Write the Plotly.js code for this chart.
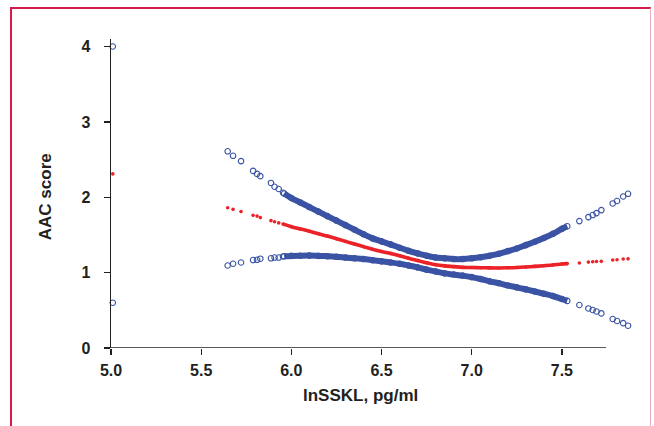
<!DOCTYPE html>
<html>
<head>
<meta charset="utf-8">
<script src="https://cdn.plot.ly/plotly-3.0.1.min.js"></script>
<style>
  html, body { margin: 0; padding: 0; background: #ffffff; }
  #wrap { position: relative; width: 654px; height: 426px; overflow: hidden; }
  #chart { position: absolute; left: 0; top: 0; width: 654px; height: 426px; }
  #frame { position: absolute; left: 10px; top: 7px; width: 641px; height: 440px;
           border-top: 2.5px solid #d21c4c; border-left: 2.5px solid #d21c4c;
           border-right: 1.5px solid #e8b0c4; pointer-events: none; box-sizing: border-box; }
</style>
</head>
<body>
<div id="wrap">
  <div id="chart"></div>
  <div id="frame"></div>
</div>
<script>
// ---- data ----
var xLeft  = [5.01, 5.647, 5.677, 5.721, 5.788, 5.810, 5.828, 5.887, 5.907, 5.930, 5.954];
var upperLeft = [4.00, 2.61, 2.55, 2.48, 2.35, 2.31, 2.28, 2.19, 2.14, 2.11, 2.06];
var estLeft   = [2.31, 1.86, 1.84, 1.81, 1.76, 1.75, 1.73, 1.69, 1.675, 1.66, 1.645];
var lowerLeft = [0.60, 1.095, 1.118, 1.135, 1.167, 1.17, 1.185, 1.19, 1.20, 1.20, 1.215];

var xBand = [5.96, 6.00, 6.05, 6.10, 6.15, 6.20, 6.25, 6.30, 6.35, 6.40, 6.45, 6.50, 6.55, 6.60, 6.65, 6.70, 6.75,
             6.80, 6.85, 6.90, 6.95, 7.00, 7.05, 7.10, 7.15, 7.20, 7.25, 7.30, 7.35, 7.40, 7.45, 7.50, 7.53];
var upperBand = [2.05, 1.99, 1.93, 1.87, 1.81, 1.75, 1.69, 1.63, 1.57, 1.51, 1.455, 1.415, 1.375, 1.33, 1.29, 1.255, 1.225,
                 1.20, 1.19, 1.18, 1.18, 1.19, 1.205, 1.225, 1.25, 1.285, 1.32, 1.365, 1.41, 1.46, 1.515, 1.58, 1.615];
var estBand   = [1.64, 1.61, 1.58, 1.55, 1.515, 1.485, 1.45, 1.415, 1.38, 1.345, 1.31, 1.28, 1.255, 1.225, 1.19, 1.16, 1.13,
                 1.105, 1.09, 1.08, 1.07, 1.068, 1.065, 1.063, 1.062, 1.064, 1.068, 1.075, 1.083, 1.092, 1.102, 1.115, 1.12];
var lowerBand = [1.217, 1.222, 1.225, 1.226, 1.222, 1.217, 1.21, 1.20, 1.19, 1.18, 1.165, 1.15, 1.135, 1.118, 1.095, 1.07, 1.04,
                 1.015, 0.99, 0.975, 0.96, 0.94, 0.915, 0.885, 0.86, 0.83, 0.805, 0.778, 0.75, 0.72, 0.69, 0.65, 0.625];

var xRight = [7.597, 7.647, 7.671, 7.692, 7.719, 7.782, 7.806, 7.840, 7.867];
var upperRight = [1.684, 1.737, 1.764, 1.79, 1.83, 1.918, 1.95, 2.01, 2.046];
var estRight   = [1.127, 1.14, 1.145, 1.148, 1.15, 1.167, 1.17, 1.18, 1.183];
var lowerRight = [0.57, 0.525, 0.504, 0.485, 0.459, 0.385, 0.358, 0.33, 0.296];

var xTicks = [5.0, 5.5, 6.0, 6.5, 7.0, 7.5];
var xTickText = ["5.0", "5.5", "6.0", "6.5", "7.0", "7.5"];
var yTicks = [0, 1, 2, 3, 4];
var xTitle = "lnSSKL, pg/ml";
var yTitle = "AAC score";

// ---- styles ----
var BLUE = "#3a53a4";
var RED = "#ec2229";
var INK = "#231f20";
var FONT = "Liberation Sans, Arial, Helvetica, sans-serif";

function bandTrace(y, color, width) {
  return { x: xBand, y: y, type: "scatter", mode: "lines", hoverinfo: "skip",
           line: { color: color, width: width, shape: "spline" }, showlegend: false };
}
function ptsTrace(x, y, isCI) {
  return { x: x, y: y, type: "scatter", mode: "markers", showlegend: false, cliponaxis: false,
           marker: isCI ? { symbol: "circle-open", size: 5.5, color: BLUE, line: { width: 1.1, color: BLUE } }
                        : { symbol: "circle", size: 3.6, color: RED } };
}

var traces = [
  bandTrace(upperBand, BLUE, 6),
  bandTrace(lowerBand, BLUE, 6),
  ptsTrace(xLeft.concat(xBand, xRight), upperLeft.concat(upperBand, upperRight), true),
  ptsTrace(xLeft.concat(xBand, xRight), lowerLeft.concat(lowerBand, lowerRight), true),
  bandTrace(estBand, RED, 3.6),
  ptsTrace(xLeft.concat(xBand, xRight), estLeft.concat(estBand, estRight), false)
];

var layout = {
  width: 654, height: 426,
  margin: { l: 111, r: 20, t: 39, b: 78, pad: 0 },
  paper_bgcolor: "#ffffff", plot_bgcolor: "#ffffff",
  showlegend: false,
  font: { family: FONT, color: INK, size: 16, weight: 700 },
  xaxis: {
    range: [5, 7.9], showgrid: false, zeroline: false, showline: false,
    tickmode: "array", tickvals: xTicks, ticktext: xTickText,
    ticks: "outside", ticklen: 6, tickwidth: 1.3, tickcolor: INK,
    tickfont: { family: FONT, size: 16, color: INK, weight: 700 },
    ticklabelstandoff: 2
  },
  yaxis: {
    range: [0, 4.1], showgrid: false, zeroline: false,
    showline: true, linecolor: INK, linewidth: 1.5,
    tickmode: "array", tickvals: yTicks,
    ticks: "outside", ticklen: 6, tickwidth: 1.3, tickcolor: INK,
    tickfont: { family: FONT, size: 16, color: INK, weight: 700 },
    ticklabelstandoff: 10
  },
  shapes: [
    { type: "line", xref: "x", yref: "y", x0: 5, x1: 7.745, y0: 0, y1: 0,
      line: { color: INK, width: 1.5 }, layer: "above" }
  ],
  annotations: [
    { text: xTitle, xref: "x", yref: "paper", x: 6.382, y: -0.155, xanchor: "center", yanchor: "middle",
      showarrow: false, font: { family: FONT, size: 17, color: INK, weight: 700 } },
    { text: yTitle, xref: "paper", yref: "paper", x: -0.125, y: 0.49, xanchor: "center", yanchor: "middle",
      textangle: -90, showarrow: false, font: { family: FONT, size: 17, color: INK, weight: 700 } }
  ]
};

Plotly.newPlot("chart", traces, layout, { staticPlot: true, displayModeBar: false });
</script>
</body>
</html>
